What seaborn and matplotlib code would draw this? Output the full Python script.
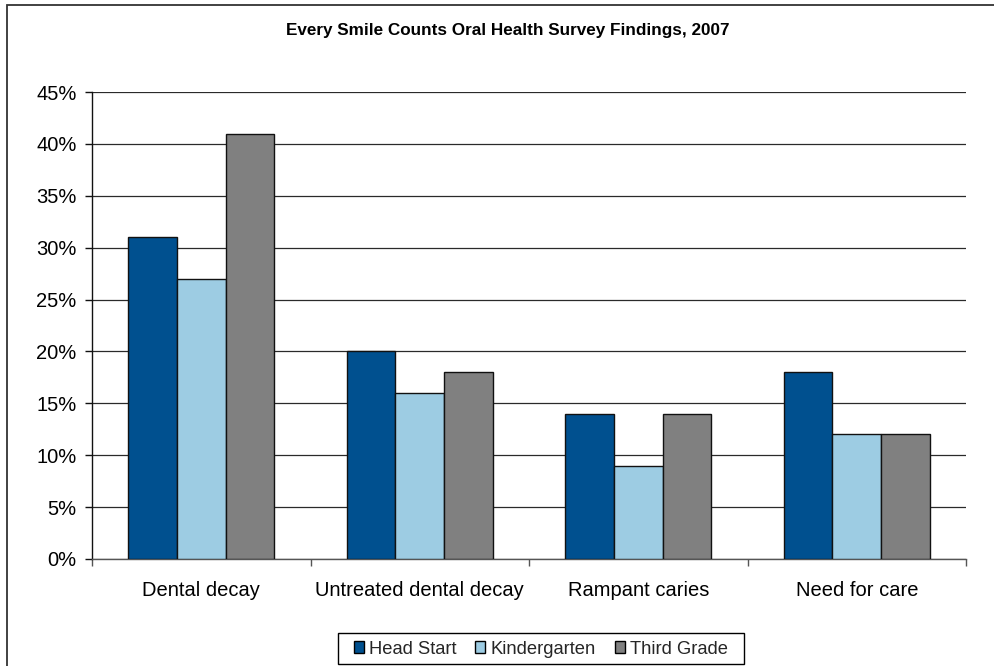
import matplotlib
matplotlib.use("Agg")
import matplotlib.pyplot as plt
import seaborn as sns
import pandas as pd
from matplotlib.patches import Rectangle
from matplotlib.ticker import MultipleLocator, PercentFormatter

categories = ["Dental decay", "Untreated dental decay", "Rampant caries", "Need for care"]
head_start = [31, 20, 14, 18]
kindergarten = [27, 16, 9, 12]
third_grade = [41, 18, 14, 12]
groups = ["Head Start", "Kindergarten", "Third Grade"]
colors = ["#00508F", "#9DCCE3", "#808080"]

rows = []
for g, vals in zip(groups, [head_start, kindergarten, third_grade]):
    for c, v in zip(categories, vals):
        rows.append({"category": c, "group": g, "value": v})
df = pd.DataFrame(rows)

sns.set_theme(style="white")
plt.rcParams["font.family"] = ["Liberation Sans", "DejaVu Sans"]

W, H = 994, 666
fig = plt.figure(figsize=(W / 100, H / 100), dpi=100)
ax = fig.add_axes([92 / W, 1 - 559 / H, 874 / W, 467 / H])

# outer chart frame
fig.patches.append(Rectangle((7 / W, -0.1), 1.2, 1 - 4.5 / H + 0.1,
                             transform=fig.transFigure, fill=False,
                             edgecolor="#333333", linewidth=1.3, zorder=0))

sns.barplot(data=df, x="category", y="value", hue="group", palette=colors,
            order=categories, hue_order=groups, width=0.668, gap=0,
            edgecolor="#111111", linewidth=1.0, saturation=1, ax=ax, zorder=3)

ax.set_ylim(0, 45)
ax.set_xlim(-0.5, len(categories) - 0.5)
ax.yaxis.set_major_locator(MultipleLocator(5))
ax.yaxis.set_major_formatter(PercentFormatter(decimals=0))
ax.yaxis.grid(True, color="#2a2a2a", linewidth=0.9, zorder=0)
ax.set_axisbelow(True)
gl = ax.get_ygridlines()
gl[-1].set_color("#999999")

for side in ["top", "right"]:
    ax.spines[side].set_visible(False)
ax.spines["left"].set_color("#111111")
ax.spines["bottom"].set_color("#555555")
ax.spines["left"].set_linewidth(1.0)
ax.spines["bottom"].set_linewidth(1.0)

ax.set_xticks(range(len(categories)))
ax.set_xticklabels(categories)
ax.tick_params(axis="x", length=0, pad=16, labelsize=14.5, labelcolor="black")
ax.set_xticks([i - 0.5 for i in range(len(categories) + 1)], minor=True)
ax.tick_params(axis="x", which="minor", direction="out", length=5, width=1.0,
               color="#555555", bottom=True)
ax.tick_params(axis="y", left=True, direction="out", length=5, width=1.0,
               color="#111111", labelsize=14.5, labelcolor="black", pad=6)
ax.set_xlabel("")
ax.set_ylabel("")

fig.text(508 / W, 1 - 31 / H, "Every Smile Counts Oral Health Survey Findings, 2007",
         ha="center", va="center", fontsize=12.3, fontweight="bold", color="black")

ax.get_legend().remove()
handles = [Rectangle((0, 0), 1, 1, facecolor=c, edgecolor="black", linewidth=1.0) for c in colors]
leg = fig.legend(handles, groups, loc="center", bbox_to_anchor=(541 / W, 1 - 649 / H),
                 ncol=3, frameon=False, fontsize=13.2, handlelength=0.55, handleheight=0.55,
                 handletextpad=0.3, columnspacing=1.0, borderpad=0.3)
# legend box
fig.patches.append(Rectangle((338 / W, 1 - 664 / H), 406 / W, 31 / H,
                             transform=fig.transFigure, fill=False,
                             edgecolor="black", linewidth=1.0))

fig.savefig("out.png", dpi=100, facecolor="white")
